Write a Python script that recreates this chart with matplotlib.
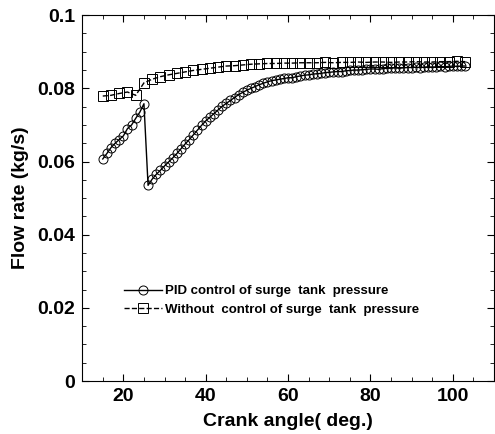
import numpy as np
import matplotlib
matplotlib.use("Agg")
import matplotlib.pyplot as plt
from matplotlib.ticker import MultipleLocator

# crank angle (deg) and flow rate (kg/s)
angle_pid = list(range(15, 104))
flow_pid = [
    0.0607, 0.0622, 0.0638, 0.0650, 0.0660, 0.0670, 0.0690, 0.0700, 0.0718, 0.0735, 0.0758,
    0.0535, 0.0552, 0.0565, 0.0576, 0.0588, 0.0599, 0.0610, 0.0622, 0.0635, 0.0648,
    0.0660, 0.0673, 0.0686, 0.0699, 0.0711, 0.0721, 0.0731, 0.0741, 0.0751, 0.0759,
    0.0767, 0.0775, 0.0783, 0.0789, 0.0795, 0.0800, 0.0805, 0.0810, 0.0814, 0.0818,
    0.0821, 0.0823, 0.0825, 0.0827, 0.0829, 0.0829, 0.0832, 0.0834, 0.0836, 0.0837,
    0.0839, 0.0840, 0.0841, 0.0843, 0.0844, 0.0845, 0.0846, 0.0846, 0.0848, 0.0849,
    0.0850, 0.0850, 0.0851, 0.0852, 0.0853, 0.0853, 0.0852, 0.0854, 0.0855, 0.0855,
    0.0856, 0.0855, 0.0856, 0.0857, 0.0857, 0.0858, 0.0857, 0.0858, 0.0859, 0.0858,
    0.0859, 0.0860, 0.0859, 0.0860, 0.0861, 0.0860, 0.0861, 0.0861,
]
angle_nc = list(range(15, 104, 2))
flow_nc = [
    0.0779, 0.0781, 0.0786, 0.0790, 0.0781, 0.0815, 0.0825, 0.0832, 0.0837, 0.0841,
    0.0845, 0.0849, 0.0852, 0.0855, 0.0858, 0.0861, 0.0862, 0.0864, 0.0866, 0.0867,
    0.0868, 0.0868, 0.0869, 0.0869, 0.0870, 0.0870, 0.0870, 0.0871, 0.0870, 0.0871,
    0.0871, 0.0872, 0.0871, 0.0872, 0.0872, 0.0871, 0.0872, 0.0872, 0.0873, 0.0872,
    0.0872, 0.0873, 0.0873, 0.0874, 0.0873,
]

plt.rcParams['font.family'] = ['Liberation Sans', 'DejaVu Sans']
plt.rcParams['font.weight'] = 'bold'

fig = plt.figure(figsize=(4.95, 4.34), dpi=100)
ax = fig.add_axes([0.166, 0.122, 0.832, 0.843])

ax.plot(angle_pid, flow_pid, '-', color='black', lw=1.0, marker='o', ms=6.5,
        mfc='none', mec='black', mew=0.7, label='PID control of surge  tank  pressure')
ax.plot(angle_nc, flow_nc, '--', color='black', lw=1.0, marker='s', ms=6.5,
        mfc='none', mec='black', mew=0.7, label='Without  control of surge  tank  pressure')

ax.set_xlim(10, 110)
ax.set_ylim(0, 0.1)
ax.xaxis.set_minor_locator(MultipleLocator(5))
ax.yaxis.set_minor_locator(MultipleLocator(0.005))
ax.set_yticks([0, 0.02, 0.04, 0.06, 0.08, 0.1])
ax.set_yticklabels(['0', '0.02', '0.04', '0.06', '0.08', '0.1'])
ax.set_xticks([20, 40, 60, 80, 100])
ax.tick_params(which='both', direction='in', top=True, right=True, labelsize=14)
ax.tick_params(which='major', length=5, pad=5)
ax.tick_params(which='minor', length=3)

ax.set_xlabel('Crank angle( deg.)', fontsize=14, fontweight='bold', labelpad=6)
ax.set_ylabel('Flow rate (kg/s)', fontsize=14, fontweight='bold', labelpad=6)

ax.legend(loc='upper left', bbox_to_anchor=(0.085, 0.28), frameon=False,
          handlelength=2.9, handletextpad=0.25, borderpad=0,
          labelspacing=0.45, prop={'weight': 'bold', 'size': 9.5})

fig.savefig('out.png', dpi=100)
